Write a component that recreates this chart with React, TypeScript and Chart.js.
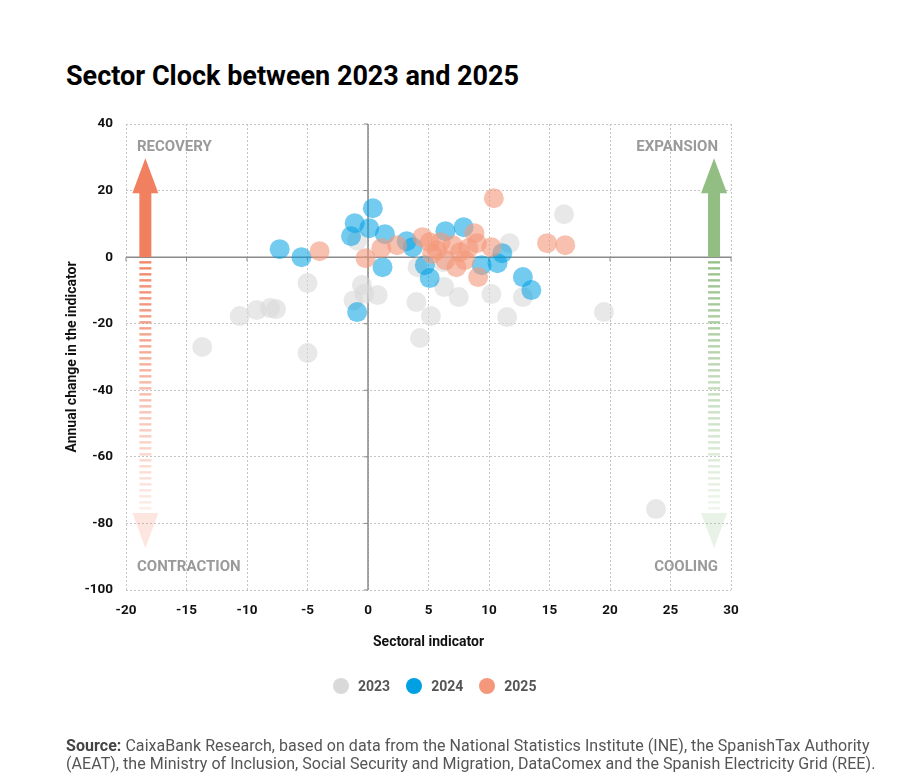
import { useEffect, useRef } from "react";
import { Chart, registerables } from "chart.js";

Chart.register(...registerables);

const TITLE = "Sector Clock between 2023 and 2025";
const X_LABEL = "Sectoral indicator";
const Y_LABEL = "Annual change in the indicator";
const SERIES_NAMES = ["2023", "2024", "2025"];
const SERIES_COLORS = ["#d9d9d9", "#00a0e3", "#f4977a"];
const SERIES_FILLS = ["rgba(217,217,217,0.6)", "rgba(0,160,227,0.55)", "rgba(244,151,122,0.6)"];

const X_2023 = [-13.7, -10.6, -9.2, -8.1, -7.6, -5.0, -5.0, -1.2, -0.5, -0.3, 0.8, 4.0, 4.3, 5.2, 6.3, 7.5, 10.2, 11.5, 11.7, 12.8, 16.2, 19.5, 23.8, 4.1, -0.9, 6.2];
const Y_2023 = [-27.0, -17.7, -15.9, -15.3, -15.6, -7.8, -28.8, -13.0, -8.4, -11.0, -11.4, -13.5, -24.3, -17.7, -9.0, -12.0, -11.1, -18.0, 4.2, -12.0, 12.9, -16.5, -75.7, -3.0, 5.0, -1.5];

const X_2024 = [-7.3, -5.5, 0.4, -1.1, -1.4, 0.1, 1.4, 1.2, -0.9, 3.2, 3.7, 4.7, 5.1, 6.4, 7.9, 9.4, 10.7, 11.1, 12.8, 13.5];
const Y_2024 = [2.4, 0.0, 14.7, 10.2, 6.3, 8.7, 6.9, -3.0, -16.5, 4.8, 3.0, -2.4, -6.3, 7.8, 9.0, -2.4, -1.8, 1.2, -6.0, -9.9];

const X_2025 = [-4.0, -0.2, 1.1, 2.4, 4.5, 5.1, 5.7, 6.4, 7.0, 7.6, 8.0, 8.3, 8.8, 9.0, 9.1, 10.2, 10.4, 14.8, 16.3, 7.3, 5.3, 6.0];
const Y_2025 = [1.8, -0.3, 2.7, 3.6, 6.0, 4.5, 2.1, -0.9, 3.6, 1.5, -0.9, 2.7, 7.2, 4.2, -6.0, 3.0, 17.7, 4.2, 3.6, -3.0, 1.0, 4.5];

const X_MIN = -20, X_MAX = 30, X_STEP = 5;
const Y_MIN = -100, Y_MAX = 40, Y_STEP = 20;

const QUADRANTS = ["RECOVERY", "EXPANSION", "CONTRACTION", "COOLING"];
// arrows (data units): x position, up-tip, up-head base, stripes end, down-tip
const ARROW_X = [-18.4, 28.6];
const ARROW_UP_TIP = 29.7;
const ARROW_HEAD_BASE = 19.2;
const ARROW_STRIPE_END = -76;
const ARROW_DOWN_TIP = -87.4;
const ARROW_RGB = [[240, 128, 96], [146, 190, 132]];

const SOURCE_1 = " CaixaBank Research, based on data from the National Statistics Institute (INE), the SpanishTax Authority";
const SOURCE_2 = "(AEAT), the Ministry of Inclusion, Social Security and Migration, DataComex and the Spanish Electricity Grid (REE).";

const FONT = "Roboto, 'Liberation Sans', sans-serif";

function pts(xs: number[], ys: number[]) {
  return xs.map((x, i) => ({ x, y: ys[i] }));
}

const decorPlugin = {
  id: "decor",
  beforeDatasetsDraw(chart: any) {
    const { ctx, chartArea: ca, scales } = chart;
    const xs = scales.x;
    const ys = scales.y;
    ctx.save();
    // zero lines
    const x0 = xs.getPixelForValue(0);
    const y0 = ys.getPixelForValue(0);
    ctx.strokeStyle = "#8a8a8a";
    ctx.lineWidth = 1.5;
    ctx.beginPath();
    ctx.moveTo(ca.left, y0);
    ctx.lineTo(ca.right, y0);
    ctx.moveTo(x0, ca.top);
    ctx.lineTo(x0, ca.bottom);
    ctx.stroke();
    ctx.lineWidth = 1;
    ctx.beginPath();
    for (let v = X_MIN; v <= X_MAX; v += X_STEP) {
      const px = xs.getPixelForValue(v);
      ctx.moveTo(px, y0);
      ctx.lineTo(px, y0 + 4);
    }
    for (let v = Y_MIN; v <= Y_MAX; v += Y_STEP) {
      const py = ys.getPixelForValue(v);
      ctx.moveTo(x0, py);
      ctx.lineTo(x0 - 4, py);
    }
    ctx.stroke();

    // arrows
    ARROW_X.forEach((ax, k) => {
      const [r, g, b] = ARROW_RGB[k];
      const cx = xs.getPixelForValue(ax);
      const tip = ys.getPixelForValue(ARROW_UP_TIP);
      const base = ys.getPixelForValue(ARROW_HEAD_BASE);
      const stripeEnd = ys.getPixelForValue(ARROW_STRIPE_END);
      const downTip = ys.getPixelForValue(ARROW_DOWN_TIP);
      const hw = 13, sw = 6;
      ctx.fillStyle = `rgb(${r},${g},${b})`;
      ctx.beginPath();
      ctx.moveTo(cx, tip);
      ctx.lineTo(cx + hw, base);
      ctx.lineTo(cx - hw, base);
      ctx.closePath();
      ctx.fill();
      ctx.fillRect(cx - sw, base - 0.5, sw * 2, y0 - base + 0.5);
      // stripes
      const start = y0 + 4;
      const n = Math.floor((stripeEnd - start) / 6);
      for (let i = 0; i <= n; i++) {
        const yy = start + i * 6;
        const a = 0.95 - (0.8 * i) / n;
        ctx.fillStyle = `rgba(${r},${g},${b},${a})`;
        ctx.fillRect(cx - sw, yy, sw * 2, 2.4);
      }
      // down head
      const dBase = stripeEnd + 3;
      ctx.fillStyle = `rgba(${r},${g},${b},0.2)`;
      ctx.beginPath();
      ctx.moveTo(cx - hw, dBase);
      ctx.lineTo(cx + hw, dBase);
      ctx.lineTo(cx, downTip);
      ctx.closePath();
      ctx.fill();
    });

    // quadrant labels
    ctx.fillStyle = "#9a9a9a";
    ctx.font = `bold 15px ${FONT}`;
    ctx.textBaseline = "middle";
    ctx.textAlign = "left";
    ctx.fillText(QUADRANTS[0], ca.left + 11, ca.top + 23);
    ctx.fillText(QUADRANTS[2], ca.left + 11, ca.bottom - 23);
    ctx.textAlign = "right";
    ctx.fillText(QUADRANTS[1], ca.right - 13, ca.top + 23);
    ctx.fillText(QUADRANTS[3], ca.right - 13, ca.bottom - 23);
    ctx.restore();
  },
};

export default function App() {
  const ref = useRef<HTMLCanvasElement | null>(null);

  useEffect(() => {
    document.body.style.margin = "0";
    if (!ref.current) return;
    const series = [pts(X_2023, Y_2023), pts(X_2024, Y_2024), pts(X_2025, Y_2025)];
    const chart = new Chart(ref.current, {
      type: "scatter",
      data: {
        datasets: series.map((d, i) => ({
          label: SERIES_NAMES[i],
          data: d,
          backgroundColor: SERIES_FILLS[i],
          borderWidth: 0,
          pointRadius: 10,
          pointHoverRadius: 10,
          order: 3 - i,
        })),
      },
      options: {
        responsive: false,
        animation: false,
        devicePixelRatio: 1,
        layout: { padding: { left: 60, right: 169, top: 124, bottom: 118 } },
        plugins: {
          legend: { display: false },
          tooltip: { enabled: false },
        },
        scales: {
          x: {
            type: "linear",
            min: X_MIN,
            max: X_MAX,
            afterFit: (s: any) => { s.height = 70; },
            ticks: {
              stepSize: X_STEP,
              color: "#111",
              padding: 13,
              font: { family: FONT, size: 13.5, weight: "bold" },
            },
            grid: { color: "#c4c4c4", drawTicks: false, lineWidth: 1 },
            border: { display: false, dash: [2, 2] },
            title: {
              display: true,
              text: X_LABEL,
              color: "#111",
              padding: { top: 4, bottom: 9 },
              font: { family: FONT, size: 14, weight: "bold" },
            },
          },
          y: {
            type: "linear",
            min: Y_MIN,
            max: Y_MAX,
            afterFit: (s: any) => { s.width = 66; },
            ticks: {
              stepSize: Y_STEP,
              color: "#111",
              padding: 13,
              font: { family: FONT, size: 13.5, weight: "bold" },
            },
            grid: { color: "#c4c4c4", drawTicks: false, lineWidth: 1 },
            border: { display: false, dash: [2, 2] },
            title: {
              display: true,
              text: Y_LABEL,
              color: "#111",
              padding: { top: 4, bottom: 4 },
              font: { family: FONT, size: 14, weight: "bold" },
            },
          },
        },
      },
      plugins: [decorPlugin],
    } as any);
    return () => chart.destroy();
  }, []);

  return (
    <div style={{ position: "absolute", left: 0, top: 0, width: 900, height: 778, background: "#fff", fontFamily: FONT }}>
      <div style={{ position: "absolute", left: 66, top: 60, fontSize: 27, fontWeight: 700, lineHeight: "32px", color: "#000", whiteSpace: "nowrap" }}>
        {TITLE}
      </div>
      <canvas ref={ref} width={900} height={778} style={{ position: "absolute", left: 0, top: 0, width: 900, height: 778 }} />
      <div style={{ position: "absolute", left: 333, top: 676, height: 20, display: "flex", alignItems: "center" }}>
        {SERIES_NAMES.map((n, i) => (
          <div key={n} style={{ display: "flex", alignItems: "center", marginRight: 16 }}>
            <span style={{ width: 16, height: 16, borderRadius: 8, background: SERIES_COLORS[i], display: "inline-block", marginRight: 9 }} />
            <span style={{ fontSize: 14, fontWeight: 700, color: "#555" }}>{n}</span>
          </div>
        ))}
      </div>
      <div style={{ position: "absolute", left: 66, top: 737, fontSize: 16, lineHeight: "18px", color: "#555", whiteSpace: "nowrap", letterSpacing: "0.05px" }}>
        <b style={{ color: "#444" }}>Source:</b>{SOURCE_1}
        <br />
        {SOURCE_2}
      </div>
    </div>
  );
}
